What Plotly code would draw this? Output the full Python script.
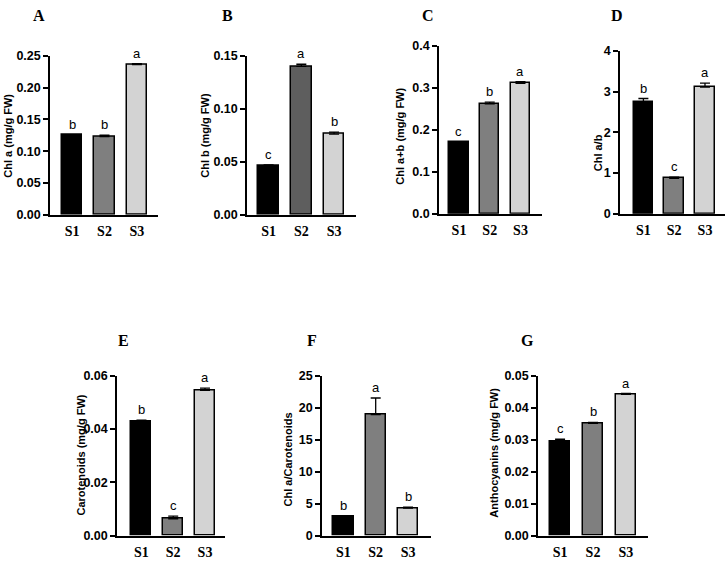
import plotly.graph_objects as go

W, H = 728, 563

# ---------------- data ----------------
categories = ["S1", "S2", "S3"]
panel_names = ["A", "B", "C", "D", "E", "F", "G"]
y_titles = ["Chl a (mg/g FW)", "Chl b (mg/g FW)", "Chl a+b (mg/g FW)", "Chl a/b",
            "Carotenoids (mg/g FW)", "Chl a/Carotenoids", "Anthocyanins (mg/g FW)"]

chl_a = [0.125, 0.123, 0.236]
chl_a_err = [0.001, 0.002, 0.0015]
chl_b = [0.046, 0.140, 0.076]
chl_b_err = [0.001, 0.002, 0.002]
chl_ab = [0.170, 0.262, 0.311]
chl_ab_err = [0.002, 0.004, 0.004]
chl_ratio = [2.74, 0.87, 3.11]
chl_ratio_err = [0.09, 0.03, 0.10]
carotenoids = [0.0428, 0.0063, 0.0545]
carotenoids_err = [0.0005, 0.0010, 0.0008]
chl_a_car = [2.9, 18.9, 4.27]
chl_a_car_err = [0.10, 2.6, 0.15]
anthocyanins = [0.0295, 0.0351, 0.0441]
anthocyanins_err = [0.0006, 0.0003, 0.0003]

values = [chl_a, chl_b, chl_ab, chl_ratio, carotenoids, chl_a_car, anthocyanins]
errors = [chl_a_err, chl_b_err, chl_ab_err, chl_ratio_err, carotenoids_err, chl_a_car_err, anthocyanins_err]
letters = [["b", "b", "a"], ["c", "a", "b"], ["c", "b", "a"], ["b", "c", "a"],
           ["b", "c", "a"], ["b", "a", "b"], ["c", "b", "a"]]

y_max = [0.25, 0.15, 0.4, 4, 0.06, 25, 0.05]
y_dtick = [0.05, 0.05, 0.1, 1, 0.02, 5, 0.01]
y_fmt = [".2f", ".2f", ".1f", "d", ".2f", "d", ".2f"]

# ---------------- layout (pixels) ----------------
ax_x0 = [50, 247, 439, 620, 117, 322, 538]
ax_x1 = [158, 356, 542, 725, 225, 431, 648]
ax_top = [50, 50, 40, 45, 378, 378, 378]
ax_bot = [213, 213, 212, 212, 542, 542, 542]
x_lo = [-0.68, -0.66, -0.65, -0.76, -0.77, -0.66, -0.67]
x_hi = [2.65, 2.67, 2.70, 2.65, 2.63, 2.71, 2.67]
label_pos = [(39, 9), (227, 9), (428, 9), (617, 9), (123, 342), (312, 342), (527, 342)]
ytitle_pos = [(8, 132), (205, 132), (400, 133), (598, 150), (81, 460), (288, 464), (494, 457)]

bar_colors = [["#000000", "#7f7f7f", "#d3d3d3"]] * 7
bar_colors[1] = ["#000000", "#5e5e5e", "#d3d3d3"]

TICK_FONT = dict(family="Liberation Sans, Arial", size=12.5, color="black", weight="bold")
CAT_FONT = dict(family="Liberation Serif, Times New Roman", size=14, color="black", weight="bold")

fig = go.Figure()
annotations = []
for i in range(7):
    xa = "x" if i == 0 else f"x{i+1}"
    ya = "y" if i == 0 else f"y{i+1}"
    fig.add_trace(go.Bar(
        x=[0, 1, 2], y=values[i], xaxis=xa, yaxis=ya,
        width=0.63,
        marker=dict(color=bar_colors[i], line=dict(color="black", width=1.5)),
        error_y=dict(type="data", array=errors[i], arrayminus=[0, 0, 0], symmetric=False,
                     color="black", thickness=1.3, width=5),
        showlegend=False, hoverinfo="skip",
    ))
    xkey = "xaxis" if i == 0 else f"xaxis{i+1}"
    ykey = "yaxis" if i == 0 else f"yaxis{i+1}"
    fig.layout[xkey] = dict(
        domain=[ax_x0[i] / W, ax_x1[i] / W], anchor=ya,
        range=[x_lo[i], x_hi[i]], tickvals=[0, 1, 2], ticktext=categories,
        showline=True, linecolor="black", linewidth=1.5, ticks="",
        showgrid=False, zeroline=False, tickfont=CAT_FONT, ticklabelstandoff=3,
        fixedrange=True,
    )
    fig.layout[ykey] = dict(
        domain=[1 - ax_bot[i] / H, 1 - ax_top[i] / H], anchor=xa,
        range=[0, y_max[i]], dtick=y_dtick[i], tick0=0, tickformat=y_fmt[i],
        showline=True, linecolor="black", linewidth=1.5, ticks="outside",
        ticklen=5, tickwidth=1.5, tickcolor="black",
        showgrid=False, zeroline=False, tickfont=TICK_FONT, fixedrange=True,
    )
    # significance letters
    for j in range(3):
        annotations.append(dict(
            x=j, y=values[i][j] + errors[i][j], xref=xa, yref=ya,
            text=letters[i][j], showarrow=False, yanchor="bottom", yshift=1,
            font=dict(family="Liberation Sans, Arial", size=13, color="#000000"),
        ))
    # panel letter
    lx, ly = label_pos[i]
    annotations.append(dict(
        x=lx / W, y=1 - ly / H, xref="paper", yref="paper", text=panel_names[i],
        showarrow=False, xanchor="center", yanchor="middle",
        font=dict(family="Liberation Serif, Times New Roman", size=16, color="black", weight="bold"),
    ))
    # y-axis title
    tx, ty = ytitle_pos[i]
    annotations.append(dict(
        x=tx / W, y=1 - ty / H, xref="paper", yref="paper", text=y_titles[i],
        showarrow=False, textangle=-90, xanchor="center", yanchor="middle",
        font=dict(family="Liberation Sans, Arial", size=11, color="black", weight="bold"),
    ))

fig.update_layout(
    width=W, height=H, margin=dict(l=0, r=0, t=0, b=0),
    paper_bgcolor="white", plot_bgcolor="white",
    annotations=annotations, bargap=0,
)
fig.write_html("out.html")
